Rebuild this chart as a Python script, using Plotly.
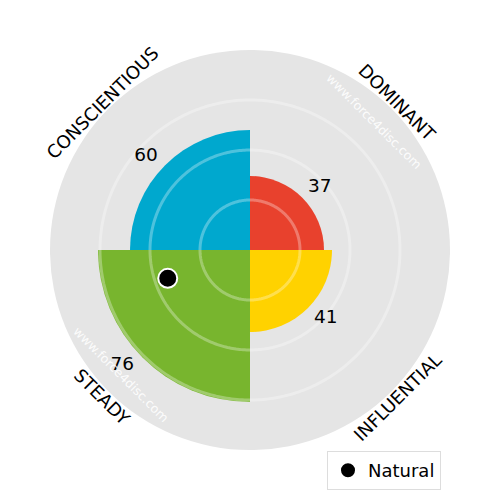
import numpy as np
import plotly.graph_objects as go

categories = ["DOMINANT", "CONSCIENTIOUS", "STEADY", "INFLUENTIAL"]
angles = [45, 135, 225, 315]
values = [37, 60, 76, 41]
colors = ["#E8412D", "#00A8CE", "#78B52E", "#FFD200"]
natural_r = [43.5]
natural_theta = [199]
grid_r = [25, 50, 75]
watermark_angles = [46, 224]

# page body offset compensation (8px)
off = 8 / 500

fig = go.Figure()

fig.add_trace(go.Barpolar(
    r=values, theta=angles, width=[90] * 4,
    marker=dict(color=colors, line=dict(width=0)),
    showlegend=False, hoverinfo="skip"))

circ = np.linspace(0, 360, 361)
for g in grid_r:
    fig.add_trace(go.Scatterpolar(
        r=[g] * len(circ), theta=circ, mode="lines",
        line=dict(color="rgba(255,255,255,0.3)", width=3),
        showlegend=False, hoverinfo="skip"))

# value labels slightly rotated toward the horizontal axis
label_theta = [a - 3 if a in (45, 225) else a + 3 for a in angles]
fig.add_trace(go.Scatterpolar(
    r=[v + 10 for v in values], theta=label_theta, mode="text",
    text=[str(v) for v in values],
    textfont=dict(family="DejaVu Sans", size=18.5, color="black"),
    showlegend=False, hoverinfo="skip"))

fig.add_trace(go.Scatterpolar(
    r=natural_r, theta=natural_theta, mode="markers", name="Natural",
    marker=dict(color="black", size=19, line=dict(color="white", width=2))))

cx, cy, R = 0.5 - off, 0.5 + off, 0.416
for cat, a in zip(categories, angles):
    rad = np.deg2rad(a)
    ta = 45 if a in (45, 225) else -45
    fig.add_annotation(
        x=cx + R * np.cos(rad), y=cy + R * np.sin(rad),
        xref="paper", yref="paper", text=cat, showarrow=False,
        textangle=ta, xanchor="center", yanchor="middle",
        font=dict(family="DejaVu Sans", size=18, color="black"))

Rw = 0.358
for a in watermark_angles:
    rad = np.deg2rad(a)
    fig.add_annotation(
        x=cx + Rw * np.cos(rad), y=cy + Rw * np.sin(rad),
        xref="paper", yref="paper", text="www.force4disc.com", showarrow=False,
        textangle=45, xanchor="center", yanchor="middle",
        font=dict(family="DejaVu Sans", size=12.5, color="rgba(255,255,255,0.9)"))

fig.update_layout(
    template="none",
    width=500, height=500,
    margin=dict(l=0, r=0, t=0, b=0),
    paper_bgcolor="white",
    polar=dict(
        domain=dict(x=[0.1 - off, 0.9 - off], y=[0.1 + off, 0.9 + off]),
        bgcolor="#E5E5E5",
        radialaxis=dict(range=[0, 100], visible=False, showgrid=False),
        angularaxis=dict(visible=False, showgrid=False, showline=False,
                         direction="counterclockwise", rotation=0),
    ),
    legend=dict(
        x=0.882 - off, y=0.098 + off, xanchor="right", yanchor="top",
        bgcolor="white", bordercolor="#DDDDDD", borderwidth=1,
        font=dict(family="DejaVu Sans", size=18, color="black"),
    ),
    showlegend=True,
)

fig.write_html("out.html")
